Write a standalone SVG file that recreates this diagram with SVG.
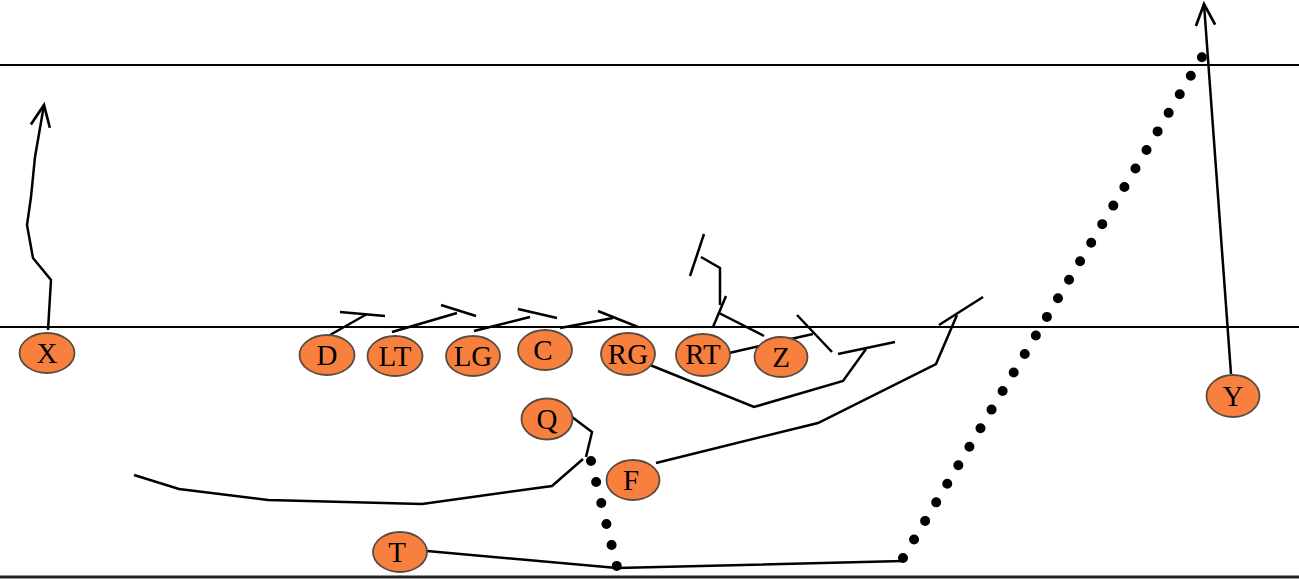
<svg xmlns="http://www.w3.org/2000/svg" width="1299" height="579" viewBox="0 0 1299 579">
<defs>
<marker id="arr" markerUnits="userSpaceOnUse" markerWidth="30" markerHeight="30" viewBox="-24 -12 28 24" refX="0" refY="0" orient="auto">
<path d="M -20 -9 L 0 0 L -20 9" fill="none" stroke="#000" stroke-width="2.5"/>
</marker>
</defs>
<style>
.field{stroke:#000;stroke-width:2.2;}
.route{fill:none;stroke:#000;stroke-width:2.5;stroke-linejoin:miter;}
.dots{fill:none;stroke:#000;stroke-width:10;stroke-linecap:round;stroke-dasharray:0 21.6;}
.node ellipse{fill:#F8803E;stroke:#5a4a40;stroke-width:1.8;}
.node text{font-family:"Liberation Serif","Times New Roman",serif;font-size:29px;fill:#000;text-anchor:middle;}
</style>
<rect width="1299" height="579" fill="#fff"/>
<g id="field">
<line class="field" x1="0" y1="65" x2="1299" y2="65"/>
<line class="field" x1="0" y1="327" x2="1299" y2="327"/>
<line x1="0" y1="577" x2="1299" y2="577" stroke="#222" stroke-width="3"/>
</g>
<g id="connectors">
<polyline class="route" points="48,330 51,280 33,258 27,225 31,197 35,157 44,105" marker-end="url(#arr)"/>
<polyline class="route" points="1231,374 1204,4" marker-end="url(#arr)"/>
<polyline class="route" points="330,335 367,314"/>
<line class="route" x1="340" y1="312" x2="385" y2="316"/>
<polyline class="route" points="392,332 457,313"/>
<line class="route" x1="441" y1="305" x2="476" y2="316"/>
<polyline class="route" points="474,331 530,317"/>
<line class="route" x1="518" y1="309" x2="557" y2="318"/>
<polyline class="route" points="560,328 613,318"/>
<line class="route" x1="598" y1="311" x2="638" y2="327"/>
<polyline class="route" points="729,353 813,334"/>
<line class="route" x1="797" y1="315" x2="832" y2="352"/>
<polyline class="route" points="764,336 719,313"/>
<line class="route" x1="713" y1="327" x2="726" y2="296"/>
<polyline class="route" points="720,305 720,268 701,257"/>
<line class="route" x1="690" y1="276" x2="704" y2="234"/>
<polyline class="route" points="650,365 754,407 843,381 866,349"/>
<line class="route" x1="838" y1="354" x2="895" y2="342"/>
<polyline class="route" points="656,463 818,423 936,364 957,315"/>
<line class="route" x1="939" y1="325" x2="983" y2="297"/>
<polyline class="route" points="572,417 592,432 586,457"/>
<polyline class="route" points="583,459 552,486 422,504 268,500 179,489 134,475"/>
<polyline class="route" points="427,551 617,568 903,561"/>
<polyline class="dots" points="591,461 617,567"/>
<polyline class="dots" points="903,558 1205,52"/>
</g>
<g id="X" class="node"><ellipse cx="47" cy="353" rx="27.5" ry="20"/><text x="47" y="363">X</text></g>
<g id="D" class="node"><ellipse cx="327" cy="355" rx="27.5" ry="20"/><text x="327" y="365">D</text></g>
<g id="LT" class="node"><ellipse cx="395" cy="356" rx="27.5" ry="20"/><text x="395" y="366">LT</text></g>
<g id="LG" class="node"><ellipse cx="473" cy="356" rx="27" ry="20"/><text x="473" y="366">LG</text></g>
<g id="C" class="node"><ellipse cx="545" cy="350" rx="27" ry="20"/><text x="543" y="360">C</text></g>
<g id="RG" class="node"><ellipse cx="628" cy="354" rx="27" ry="21"/><text x="628" y="364">RG</text></g>
<g id="RT" class="node"><ellipse cx="703" cy="355" rx="27" ry="21"/><text x="703" y="364">RT</text></g>
<g id="Z" class="node"><ellipse cx="781" cy="357" rx="26.5" ry="20"/><text x="781" y="367">Z</text></g>
<g id="Q" class="node"><ellipse cx="547" cy="419" rx="25.5" ry="20.5"/><text x="547" y="429">Q</text></g>
<g id="F" class="node"><ellipse cx="633" cy="480" rx="26.5" ry="20"/><text x="631" y="490">F</text></g>
<g id="T" class="node"><ellipse cx="400" cy="552" rx="27" ry="20"/><text x="397" y="562">T</text></g>
<g id="Y" class="node"><ellipse cx="1233" cy="396" rx="26.5" ry="21"/><text x="1233" y="406">Y</text></g>
</svg>
